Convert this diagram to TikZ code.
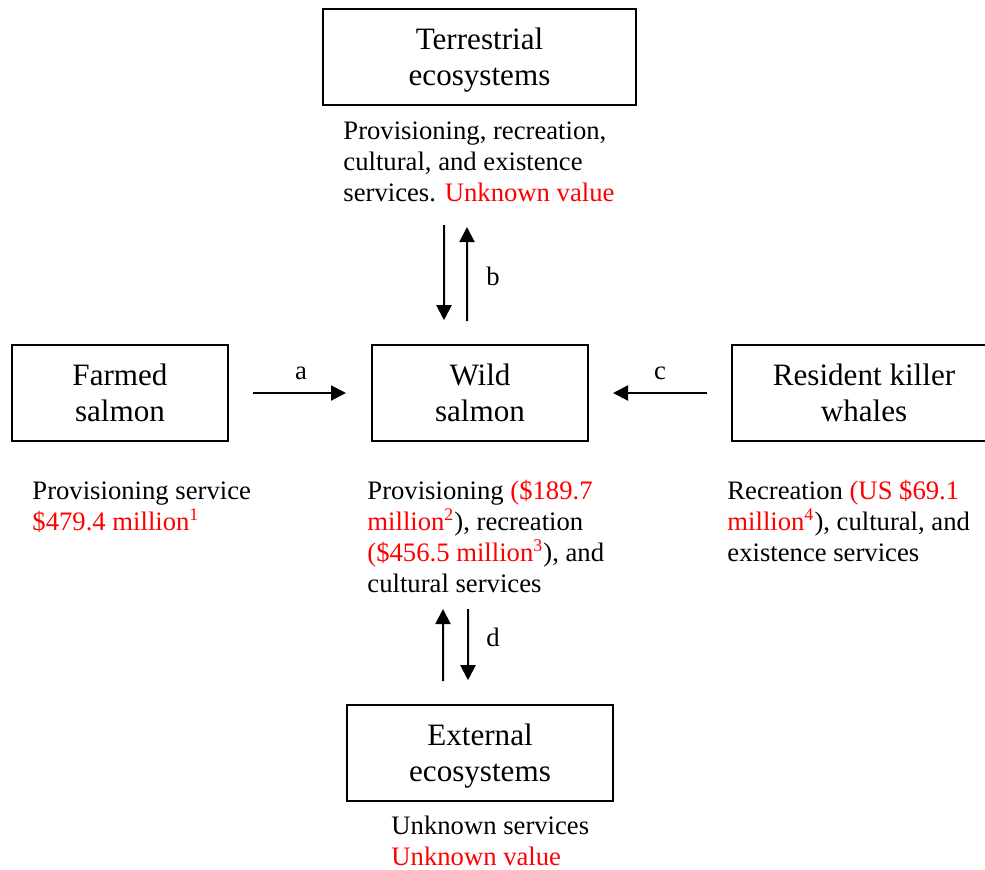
\documentclass[tikz,border=0pt]{standalone}
\usepackage{fontspec}
\setmainfont{Liberation Serif}
\usetikzlibrary{arrows.meta}
\definecolor{valred}{RGB}{255,0,0}
\newcommand{\rv}[1]{\textcolor{valred}{#1}}
\newcommand{\twolines}[2]{\begin{tabular}[t]{@{}c@{}}#1\\ #2\end{tabular}}
\begin{document}
\begin{tikzpicture}[x=0.45pt,y=-0.45pt,
  box/.style={draw, line width=0.9pt, inner sep=0pt,
    minimum height=43pt, text height=10pt, text depth=16.8pt,
    font=\fontsize{14}{16.3}\selectfont},
  body/.style={anchor=base west, inner sep=0pt, font=\fontsize{12}{14}\selectfont},
  lab/.style={inner sep=0pt, font=\fontsize{12}{14}\selectfont},
  arr/.style={line width=0.9pt, -{Triangle[length=6.75pt,width=6.75pt]}}]
\clip (0,0) rectangle (985,869);

% boxes
\node[box, minimum width=140.85pt] (terr) at (479.5,57) {\twolines{Terrestrial}{ecosystems}};
\node[box, minimum width=97.2pt] (farm) at (120,393) {\twolines{Farmed}{salmon}};
\node[box, minimum width=97.2pt] (wild) at (480,393) {\twolines{Wild}{salmon}};
\node[box, minimum width=118.8pt] (kill) at (864,393) {\twolines{Resident killer}{whales}};
\node[box, minimum width=119.7pt] (ext) at (480,753) {\twolines{External}{ecosystems}};

% descriptive texts
\node[body] (tt) at (343,139) {\begin{tabular}[t]{@{}l@{}}Provisioning, recreation,\\ cultural, and existence\\ services. \rv{Unknown value}\end{tabular}};
\node[body] (ft) at (32,499) {\begin{tabular}[t]{@{}l@{}}Provisioning service\\ \rv{\$479.4 million\textsuperscript{1}}\end{tabular}};
\node[body] (wt) at (367,499) {\begin{tabular}[t]{@{}l@{}}Provisioning \rv{(\$189.7}\\ \rv{million\textsuperscript{2}}), recreation\\ \rv{(\$456.5 million\textsuperscript{3}}), and\\ cultural services\end{tabular}};
\node[body] (kt) at (727,499) {\begin{tabular}[t]{@{}l@{}}Recreation \rv{(US \$69.1}\\ \rv{million\textsuperscript{4}}), cultural, and\\ existence services\end{tabular}};
\node[body] (et) at (391,834.5) {\begin{tabular}[t]{@{}l@{}}Unknown services\\ \rv{Unknown value}\end{tabular}};

% connector labels
\node[lab] (la) at (301,373) {a};
\node[lab] (lb) at (493,276) {b};
\node[lab] (lc) at (660,373) {c};
\node[lab] (ld) at (493,637) {d};

% free ends
\coordinate (bdn) at (444,225);
\coordinate (bup) at (467,227);
\coordinate (dup) at (443,609);
\coordinate (ddn) at (468,609);

% connectors
\draw[arr] ([xshift=10.8pt]farm.east) -- ([xshift=-11.25pt]wild.west);
\draw[arr] ([xshift=-10.8pt]kill.west) -- ([xshift=10.8pt]wild.east);
\draw[arr] (bdn) -- ([xshift=-16.2pt,yshift=10.8pt]wild.north);
\draw[arr] ([xshift=-5.85pt,yshift=10.35pt]wild.north) -- (bup);
\draw[arr] ([xshift=-16.65pt,yshift=10.35pt]ext.north) -- (dup);
\draw[arr] (ddn) -- ([xshift=-5.4pt,yshift=10.8pt]ext.north);
\end{tikzpicture}
\end{document}
